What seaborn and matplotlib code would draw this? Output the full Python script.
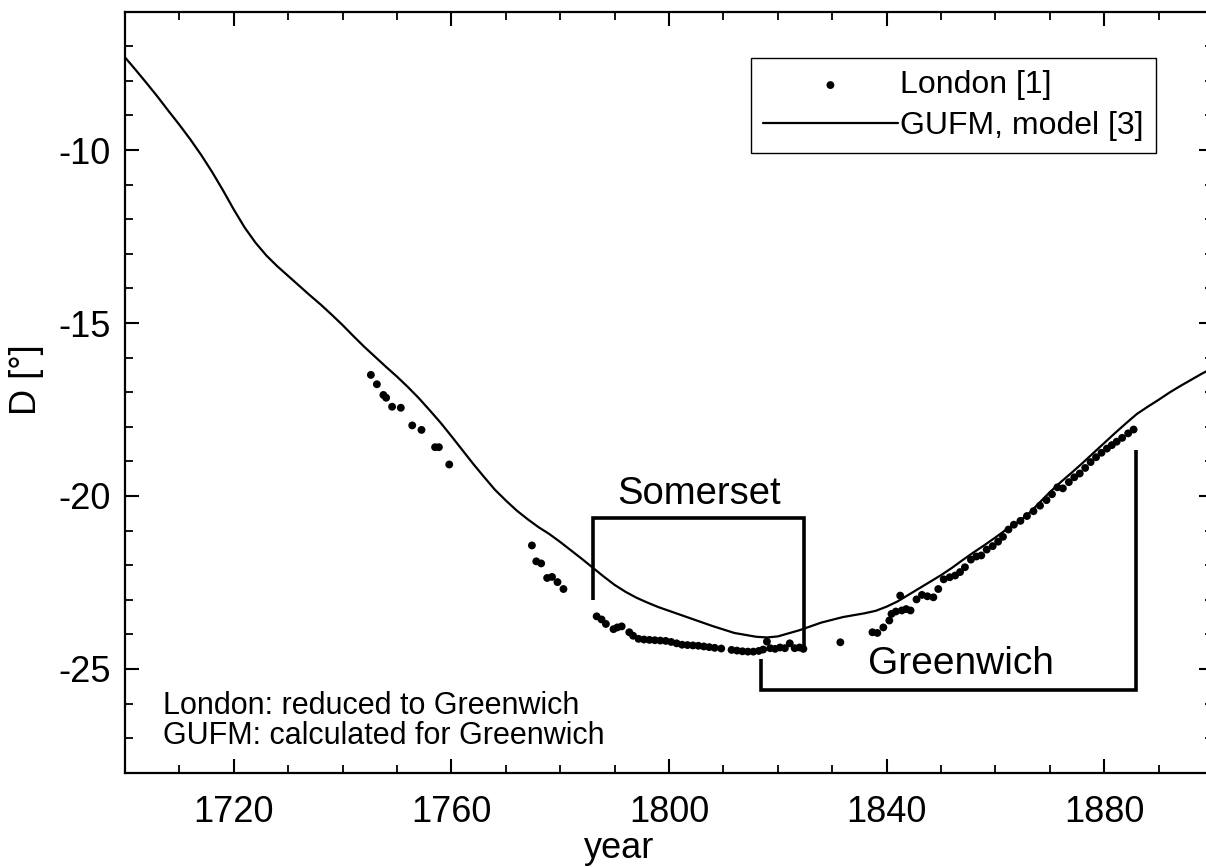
import numpy as np
import pandas as pd
import matplotlib
matplotlib.use("Agg")
import matplotlib.pyplot as plt
import seaborn as sns
from matplotlib.ticker import MultipleLocator

# ---- data ----
gufm_year = [1700, 1702, 1704, 1706, 1708, 1710, 1712, 1714, 1716, 1718, 1720, 1722, 1724,
             1726, 1728, 1730, 1732, 1734, 1736, 1738, 1740, 1742, 1744, 1746, 1748, 1750,
             1752, 1754, 1756, 1758, 1760, 1762, 1764, 1766, 1768, 1770, 1772, 1774, 1776,
             1778, 1780, 1784, 1788, 1790, 1792, 1794, 1796, 1798, 1800, 1804, 1808, 1812,
             1816, 1818, 1820, 1824, 1828, 1832, 1836, 1838, 1840, 1842, 1844, 1846, 1848,
             1850, 1852, 1854, 1856, 1858, 1860, 1862, 1864, 1866, 1868, 1870, 1872, 1874,
             1876, 1878, 1880, 1882, 1884, 1886, 1888, 1890, 1892, 1894, 1896, 1898, 1900]
gufm_D = [-7.32, -7.69, -8.07, -8.46, -8.87, -9.27, -9.69, -10.14, -10.63, -11.16, -11.72,
          -12.24, -12.68, -13.05, -13.36, -13.64, -13.92, -14.20, -14.47, -14.76, -15.06,
          -15.38, -15.69, -15.98, -16.27, -16.55, -16.85, -17.17, -17.52, -17.88, -18.27,
          -18.67, -19.07, -19.45, -19.82, -20.13, -20.42, -20.67, -20.90, -21.10, -21.33,
          -21.82, -22.33, -22.57, -22.77, -22.94, -23.08, -23.21, -23.32, -23.54, -23.76,
          -23.96, -24.07, -24.09, -24.06, -23.88, -23.66, -23.50, -23.39, -23.32, -23.20,
          -23.05, -22.86, -22.67, -22.48, -22.29, -22.08, -21.85, -21.63, -21.42, -21.20,
          -20.97, -20.77, -20.53, -20.21, -19.89, -19.60, -19.33, -19.05, -18.76, -18.47,
          -18.18, -17.90, -17.63, -17.42, -17.22, -17.01, -16.82, -16.64, -16.46, -16.30]

london_year = [1745.2, 1746.3, 1747.5, 1748.0, 1749.1, 1750.7, 1752.8, 1754.5, 1757.0, 1757.7,
               1759.6, 1774.8, 1775.6, 1776.5, 1777.6, 1778.5, 1779.5, 1780.6,
               1786.7, 1787.6, 1788.4, 1789.8, 1790.5, 1791.3, 1792.7, 1793.4, 1794.4,
               1795.4, 1796.4, 1797.4, 1798.4, 1799.4, 1800.4, 1801.4, 1802.4, 1803.4,
               1804.4, 1805.4, 1806.4, 1807.4, 1808.4, 1809.6,
               1811.5, 1812.5, 1813.5, 1814.5, 1815.5, 1816.5, 1817.3, 1818.0, 1818.6,
               1819.5, 1820.4, 1821.3, 1822.2, 1823.1, 1824.0, 1824.7,
               1831.5, 1837.4, 1838.3, 1839.4, 1840.5, 1840.9, 1841.7, 1842.5, 1842.8,
               1843.6, 1844.4, 1845.5, 1846.5, 1847.5, 1848.6, 1849.5, 1850.5, 1851.6,
               1852.6, 1853.5, 1854.4, 1855.5, 1856.5, 1857.4, 1858.4, 1859.5, 1860.5,
               1861.4, 1862.4, 1863.4, 1864.6, 1865.8, 1867.0, 1868.2, 1869.4, 1870.4,
               1871.4, 1872.4, 1873.5, 1874.5, 1875.5, 1876.5, 1877.5, 1878.5, 1879.5,
               1880.5, 1881.4, 1882.3, 1883.3, 1884.4, 1885.4]
london_D = [-16.50, -16.77, -17.08, -17.16, -17.42, -17.45, -17.96, -18.09, -18.59, -18.59,
            -19.09, -21.43, -21.89, -21.95, -22.37, -22.34, -22.49, -22.69,
            -23.48, -23.57, -23.70, -23.85, -23.80, -23.77, -23.94, -24.04, -24.13,
            -24.15, -24.16, -24.17, -24.18, -24.19, -24.22, -24.26, -24.30, -24.31,
            -24.32, -24.33, -24.35, -24.37, -24.39, -24.41,
            -24.45, -24.47, -24.49, -24.50, -24.50, -24.48, -24.44, -24.21, -24.40,
            -24.42, -24.38, -24.40, -24.26, -24.40, -24.38, -24.42,
            -24.23, -23.94, -23.96, -23.80, -23.60, -23.41, -23.34, -22.88, -23.31,
            -23.27, -23.31, -22.99, -22.86, -22.90, -22.93, -22.69, -22.41, -22.35,
            -22.30, -22.20, -22.06, -21.84, -21.75, -21.72, -21.55, -21.45, -21.32,
            -21.18, -20.97, -20.83, -20.72, -20.58, -20.44, -20.28, -20.12, -19.95,
            -19.75, -19.78, -19.60, -19.46, -19.35, -19.19, -19.02, -18.88, -18.75,
            -18.63, -18.53, -18.43, -18.32, -18.19, -18.08]

# bracket outlines (year, D)
somerset_x = [1786.1, 1786.1, 1824.9, 1824.9]
somerset_y = [-23.01, -20.64, -20.64, -24.46]
greenwich_x = [1816.9, 1816.9, 1885.8, 1885.8]
greenwich_y = [-24.71, -25.62, -25.62, -18.68]

x_ticks = [1720, 1760, 1800, 1840, 1880]
y_ticks = [-10, -15, -20, -25]

# ---- plot ----
sns.set_style("ticks")
plt.rcParams["font.family"] = ["Liberation Sans", "DejaVu Sans"]
plt.rcParams["axes.unicode_minus"] = False
for key in ["text.color", "axes.labelcolor", "xtick.color", "ytick.color", "axes.edgecolor"]:
    plt.rcParams[key] = "black"

fig = plt.figure(figsize=(12.06, 8.67), dpi=100)
W, H = 1206, 867
ax = fig.add_axes([125 / W, (H - 772.7) / H, (1213 - 125) / W, (772.7 - 11.7) / H])

df_g = pd.DataFrame({"year": gufm_year, "D": gufm_D})
df_l = pd.DataFrame({"year": london_year, "D": london_D})

sns.lineplot(data=df_g, x="year", y="D", ax=ax, color="black", linewidth=1.6,
             label="GUFM, model [3]", sort=False, zorder=2)
sns.scatterplot(data=df_l, x="year", y="D", ax=ax, color="black", s=32,
                edgecolor="none", label="London [1]", zorder=3)

ax.plot(somerset_x, somerset_y, color="black", linewidth=2.6, solid_joinstyle="miter",
        solid_capstyle="butt")
ax.plot(greenwich_x, greenwich_y, color="black", linewidth=2.6, solid_joinstyle="miter",
        solid_capstyle="butt")

ax.text(1805.6, -20.22, "Somerset", fontsize=27.5, ha="center", va="baseline")
ax.text(1853.6, -25.15, "Greenwich", fontsize=28, ha="center", va="baseline")
ax.text(1707.0, -26.29, "London: reduced to Greenwich", fontsize=22, ha="left", va="baseline")
ax.text(1707.0, -27.18, "GUFM: calculated for Greenwich", fontsize=22, ha="left", va="baseline")

ax.set_xlim(1700, 1900)
ax.set_ylim(-28, -6)
ax.set_xticks(x_ticks)
ax.set_yticks(y_ticks)
ax.xaxis.set_minor_locator(MultipleLocator(10))
ax.yaxis.set_minor_locator(MultipleLocator(1))
ax.tick_params(axis="both", which="major", direction="in", length=10, width=1.5,
               labelsize=26, top=True, right=True)
ax.tick_params(axis="both", which="minor", direction="in", length=5.8, width=1.3,
               top=True, right=True)
ax.tick_params(axis="x", which="major", pad=16)
ax.tick_params(axis="y", which="major", pad=10)
for sp in ax.spines.values():
    sp.set_linewidth(1.6)
    sp.set_color("black")

ax.set_xlabel("year", fontsize=26)
ax.set_ylabel("D [°]", fontsize=26)
ax.xaxis.set_label_coords((619 - 125) / 1088, -(848 - 772.7) / 761)
ax.xaxis.label.set_va("center")
ax.yaxis.set_label_coords(-(125 - 27) / 1088, (772.7 - 380) / 761)
ax.yaxis.label.set_va("center")

handles, labels = ax.get_legend_handles_labels()
order = [labels.index("London [1]"), labels.index("GUFM, model [3]")]
leg = ax.legend([handles[i] for i in order], [labels[i] for i in order],
                loc="upper right",
                bbox_to_anchor=((1155.7 - 125) / 1088, (772.7 - 58.3) / 761),
                borderaxespad=0, fontsize=23, frameon=True, fancybox=False,
                handlelength=4.2, handletextpad=0.08, borderpad=0.38, labelspacing=0.33)
leg.get_frame().set_edgecolor("black")
leg.get_frame().set_linewidth(1.0)
leg.get_frame().set_alpha(1)

fig.savefig("out.png", dpi=100)
